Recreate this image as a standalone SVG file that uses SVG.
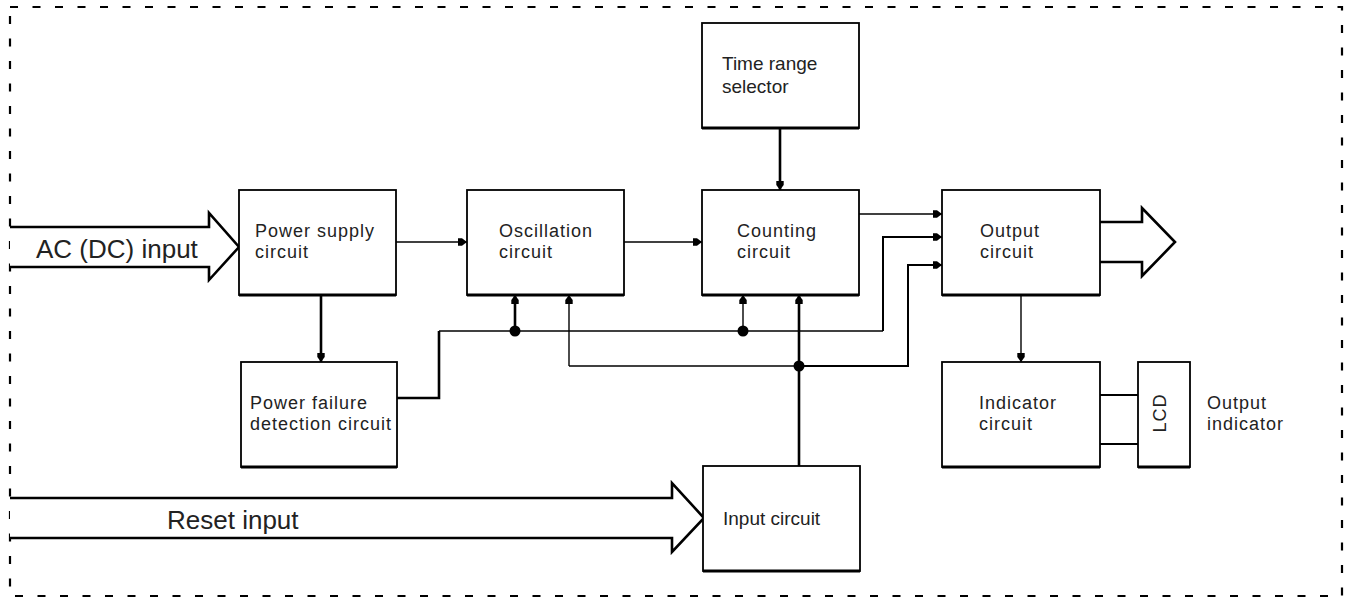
<svg xmlns="http://www.w3.org/2000/svg" width="1349" height="599" viewBox="0 0 1349 599">
<style>
  .box { fill: #fff; stroke: #000; stroke-width: 1.8; }
  .base { stroke: #000; stroke-width: 3.2; }
  .lbl { font-family: "Liberation Sans", Arial, Helvetica, sans-serif; font-size: 18px; letter-spacing: 1px; fill: #222; }
  .nar { font-family: "Liberation Sans", Arial, Helvetica, sans-serif; font-size: 19px; fill: #222; }
  .big { font-family: "Liberation Sans", Arial, Helvetica, sans-serif; font-size: 26px; fill: #222; }
  .thin { fill: none; stroke: #000; stroke-width: 1.4; }
  .mid { fill: none; stroke: #000; stroke-width: 2; }
  .thick { fill: none; stroke: #000; stroke-width: 2.6; }
  .fat { fill: #fff; stroke: #000; stroke-width: 2.6; stroke-linejoin: miter; }
  .dot { fill: #000; }
</style>
<defs>
  <marker id="ah" markerUnits="userSpaceOnUse" markerWidth="10" markerHeight="9" refX="9" refY="4.5" orient="auto">
    <path d="M0,0.8 H4 L9,4.5 L4,8.2 H0 Z" fill="#000"/>
  </marker>
</defs>
<rect x="10" y="7" width="1332" height="589" fill="none" stroke="#000" stroke-width="2.2" stroke-dasharray="8 14.5"/>

<g id="ac-input">
  <path class="fat" d="M10,227 H209 V213 L239,247 L209,280 V267 H10"/>
  <text class="big" x="36" y="258">AC (DC) input</text>
</g>
<g id="reset-input">
  <path class="fat" d="M10,498 H672 V483 L704,518 L672,552 V538 H10"/>
  <text class="big" x="167" y="529">Reset input</text>
</g>
<g id="output-arrow">
  <path class="fat" d="M1100,222 H1142 V208 L1175,242 L1142,276 V262 H1100"/>
</g>

<g id="connectors">
  <path class="thin" d="M396,242 H467" marker-end="url(#ah)"/>
  <path class="thin" d="M624,242 H702" marker-end="url(#ah)"/>
  <path class="thick" d="M780,128 V190" marker-end="url(#ah)"/>
  <path class="thin" d="M859,214 H942" marker-end="url(#ah)"/>
  <path class="thick" d="M321,295 V362" marker-end="url(#ah)"/>
  <path class="thick" d="M397,398 H439 V331"/>
  <path class="thin" d="M439,331 H883"/>
  <path class="mid" d="M883,331 V237 H942" marker-end="url(#ah)"/>
  <path class="thick" d="M515,331 V295" marker-end="url(#ah)"/>
  <path class="thin" d="M743,331 V295" marker-end="url(#ah)"/>
  <path class="thick" d="M799,466 V295" marker-end="url(#ah)"/>
  <path class="thin" d="M569,366 V295" marker-end="url(#ah)"/>
  <path class="thin" d="M569,366 H799"/>
  <path class="mid" d="M799,366 H908 V265 H942" marker-end="url(#ah)"/>
  <path class="thin" d="M1021,295 V362" marker-end="url(#ah)"/>
  <path class="mid" d="M1100,395 H1138 M1100,444 H1138"/>
  <circle class="dot" cx="515" cy="331" r="5.5"/>
  <circle class="dot" cx="743" cy="331" r="5.5"/>
  <circle class="dot" cx="799" cy="366" r="5.5"/>
</g>

<g id="power-supply">
  <rect class="box" x="239" y="190" width="157" height="105"/>
  <line class="base" x1="239" y1="295" x2="396" y2="295"/>
  <text class="lbl" x="255" y="237">Power supply</text>
  <text class="lbl" x="255" y="258">circuit</text>
</g>
<g id="power-failure">
  <rect class="box" x="241" y="362" width="156" height="105"/>
  <line class="base" x1="241" y1="467" x2="397" y2="467"/>
  <text class="lbl" x="250" y="409">Power failure</text>
  <text class="lbl" x="250" y="430">detection circuit</text>
</g>
<g id="oscillation">
  <rect class="box" x="467" y="190" width="157" height="105"/>
  <line class="base" x1="467" y1="295" x2="624" y2="295"/>
  <text class="lbl" x="499" y="237">Oscillation</text>
  <text class="lbl" x="499" y="258">circuit</text>
</g>
<g id="counting">
  <rect class="box" x="702" y="190" width="157" height="105"/>
  <line class="base" x1="702" y1="295" x2="859" y2="295"/>
  <text class="lbl" x="737" y="237">Counting</text>
  <text class="lbl" x="737" y="258">circuit</text>
</g>
<g id="time-range">
  <rect class="box" x="702" y="23" width="157" height="105"/>
  <line class="base" x1="702" y1="128" x2="859" y2="128"/>
  <text class="nar" x="722" y="70">Time range</text>
  <text class="nar" x="722" y="93">selector</text>
</g>
<g id="output">
  <rect class="box" x="942" y="190" width="158" height="105"/>
  <line class="base" x1="942" y1="295" x2="1100" y2="295"/>
  <text class="lbl" x="980" y="237">Output</text>
  <text class="lbl" x="980" y="258">circuit</text>
</g>
<g id="indicator">
  <rect class="box" x="942" y="362" width="158" height="105"/>
  <line class="base" x1="942" y1="467" x2="1100" y2="467"/>
  <text class="lbl" x="979" y="409">Indicator</text>
  <text class="lbl" x="979" y="430">circuit</text>
</g>
<g id="lcd">
  <rect class="box" x="1138" y="362" width="52" height="105"/>
  <line class="base" x1="1138" y1="467" x2="1190" y2="467"/>
  <text class="lbl" x="0" y="0" text-anchor="middle" transform="translate(1166,413) rotate(-90)">LCD</text>
</g>
<g id="output-indicator">
  <text class="lbl" x="1207" y="409">Output</text>
  <text class="lbl" x="1207" y="430">indicator</text>
</g>
<g id="input">
  <rect class="box" x="703" y="466" width="157" height="105"/>
  <line class="base" x1="703" y1="571" x2="860" y2="571"/>
  <text class="nar" x="723" y="525">Input circuit</text>
</g>
</svg>
